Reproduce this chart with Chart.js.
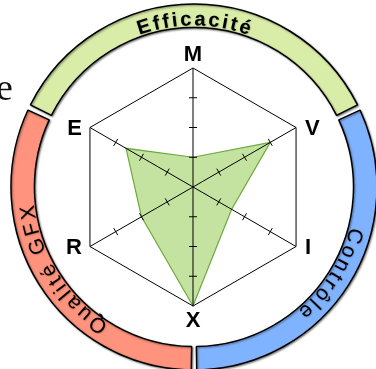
<!DOCTYPE html>
<html>
<head>
<meta charset="utf-8">
<script src="https://cdn.jsdelivr.net/npm/chart.js@4"></script>
<style>
html,body{margin:0;padding:0;background:#fff;overflow:hidden}
#wrap{position:relative;width:376px;height:369px;overflow:hidden}
canvas{position:absolute;left:0;top:0}
#cut{position:absolute;left:-4px;top:68px;font:38px/38px "Liberation Serif","DejaVu Serif",serif;color:#111;margin:0}
</style>
</head>
<body>
<div id="wrap">
  <canvas id="ring" width="376" height="369"></canvas>
  <canvas id="radar" width="376" height="369"></canvas>
  <div id="cut">e</div>
</div>
<script>
// ---- data ----
const axisLabels = ['M', 'V', 'I', 'X', 'R', 'E'];
const scores = [1, 3, 1.5, 4, 2, 2.6];
const scaleMax = 4;
const tickValues = [1, 2, 3];
const groupNames = ['Efficacité', 'Contrôle', 'Qualité GFX'];
const groupWeights = [10, 9, 9];
const groupColors = ['#daeda8', '#80b3ff', '#ff937d'];
const groupBold = [true, false, false];

// ---- ring (doughnut) ----
const ringShadow = {
  id: 'ringShadow',
  beforeDatasetsDraw(chart) {
    const c = chart.ctx; c.save();
    c.shadowColor = 'rgba(0,0,0,0.45)'; c.shadowBlur = 2; c.shadowOffsetX = 1; c.shadowOffsetY = 1;
  },
  afterDatasetsDraw(chart) { chart.ctx.restore(); }
};
const arcText = {
  id: 'arcText',
  afterDatasetsDraw(chart) {
    const c = chart.ctx;
    const meta = chart.getDatasetMeta(0);
    meta.data.forEach((arc, i) => {
      const p = arc.getProps(['x', 'y', 'startAngle', 'endAngle', 'innerRadius', 'outerRadius']);
      const bold = groupBold[i];
      const size = bold ? 20 : 21;
      const spacing = bold ? 3 : 3.6;
      c.save();
      c.font = (bold ? 'bold ' : '') + size + 'px "Liberation Sans", Arial, sans-serif';
      c.fillStyle = '#000';
      c.textAlign = 'center';
      c.textBaseline = 'alphabetic';
      c.shadowColor = 'rgba(0,0,0,0.35)'; c.shadowBlur = 1.5; c.shadowOffsetX = 0.5; c.shadowOffsetY = 0.5;
      const text = groupNames[i];
      const chars = Array.from(text);
      const widths = chars.map(ch => c.measureText(ch).width);
      const total = widths.reduce((a, b) => a + b, 0) + spacing * (chars.length - 1);
      const rMid = (p.innerRadius + p.outerRadius) / 2;
      const cap = size * 0.716;
      const rBase = rMid - cap / 2;
      const mid = (p.startAngle + p.endAngle) / 2;
      let s = -total / 2;
      chars.forEach((ch, k) => {
        const a = mid + (s + widths[k] / 2) / rMid;
        c.save();
        c.translate(p.x + rBase * Math.cos(a), p.y + rBase * Math.sin(a));
        c.rotate(a + Math.PI / 2);
        c.fillText(ch, 0, 0);
        c.restore();
        s += widths[k] + spacing;
      });
      c.restore();
    });
  }
};
new Chart(document.getElementById('ring'), {
  type: 'doughnut',
  data: {
    labels: groupNames,
    datasets: [{
      data: groupWeights,
      backgroundColor: groupColors,
      borderColor: '#000',
      borderWidth: 1.5,
      spacing: 5
    }]
  },
  options: {
    responsive: false, animation: false, devicePixelRatio: 1,
    rotation: -360 * groupWeights[0] / (2 * groupWeights.reduce((a, b) => a + b, 0)),
    radius: 180.5,
    cutout: '87%',
    layout: { padding: { left: 12, top: 5, right: 0, bottom: 0 } },
    plugins: { legend: { display: false }, tooltip: { enabled: false } }
  },
  plugins: [ringShadow, arcText]
});

// ---- radar ----
const tickMarks = {
  id: 'tickMarks',
  afterDraw(chart) {
    const sc = chart.scales.r, c = chart.ctx;
    c.save();
    c.strokeStyle = '#000'; c.lineWidth = 1;
    axisLabels.forEach((_, i) => {
      const a = sc.getIndexAngle(i) - Math.PI / 2;
      const px = -Math.sin(a), py = Math.cos(a);
      tickValues.forEach(v => {
        const pt = sc.getPointPositionForValue(i, v);
        c.beginPath();
        c.moveTo(pt.x - 4 * px, pt.y - 4 * py);
        c.lineTo(pt.x + 4 * px, pt.y + 4 * py);
        c.stroke();
      });
    });
    // axis letters
    c.fillStyle = '#000';
    c.font = 'bold 22px "Liberation Sans", Arial, sans-serif';
    axisLabels.forEach((lab, i) => {
      const pt = sc.getPointPositionForValue(i, scaleMax);
      const dx = pt.x - sc.xCenter;
      if (Math.abs(dx) < 1) {
        c.textAlign = 'center'; c.textBaseline = 'alphabetic';
        if (pt.y < sc.yCenter) c.fillText(lab, pt.x, pt.y - 7);
        else c.fillText(lab, pt.x, pt.y + 21);
      } else if (dx > 0) {
        c.textAlign = 'left'; c.textBaseline = 'middle';
        c.fillText(lab, pt.x + 9, pt.y + 1);
      } else {
        c.textAlign = 'right'; c.textBaseline = 'middle';
        c.fillText(lab, pt.x - 8, pt.y + 1);
      }
    });
    c.restore();
  }
};
new Chart(document.getElementById('radar'), {
  type: 'radar',
  data: {
    labels: axisLabels,
    datasets: [{
      data: scores,
      backgroundColor: '#c4e3a1',
      borderColor: '#6ea83c',
      borderWidth: 1.2,
      pointRadius: 0,
      fill: true
    }]
  },
  options: {
    responsive: false, animation: false, devicePixelRatio: 1,
    layout: { padding: { left: 74, right: 64, top: 68, bottom: 63 } },
    plugins: { legend: { display: false }, tooltip: { enabled: false } },
    scales: {
      r: {
        min: 0, max: scaleMax,
        ticks: { display: false, stepSize: 1 },
        pointLabels: { display: false },
        grid: { z: 1, color: ctx => (ctx.tick && ctx.tick.value === scaleMax) ? '#000' : 'rgba(0,0,0,0)', lineWidth: 1 },
        angleLines: { color: '#000', lineWidth: 1 }
      }
    }
  },
  plugins: [tickMarks]
});
</script>
</body>
</html>
